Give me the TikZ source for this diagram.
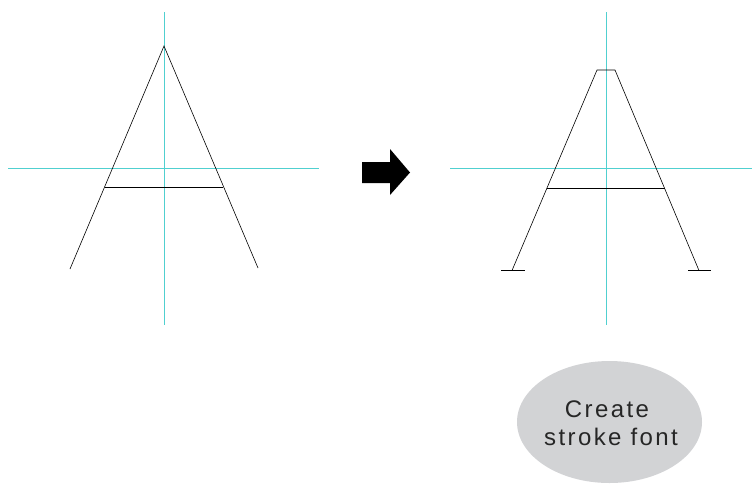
\documentclass[tikz,border=0pt]{standalone}
\usepackage{fontspec}
\usetikzlibrary{shapes.geometric}
\setmainfont{Liberation Sans}
\newfontfamily\labelfont[LetterSpace=10]{Liberation Sans}
\definecolor{guide}{RGB}{80,208,208}
\definecolor{bubble}{RGB}{210,211,213}
\tikzset{
  guideline/.style={draw=guide, line width=1pt},
  strokeline/.style={draw=black, line width=0.6pt},
  arrowshape/.style={fill=black, draw=none},
  labeltext/.style={font=\labelfont\fontsize{24}{28}\selectfont, text=black!85, inner sep=0pt, anchor=base},
}
\begin{document}
\begin{tikzpicture}[x=1pt,y=-1pt]
\useasboundingbox (0,0) rectangle (752,483);
% left figure
\coordinate (lgt) at (164.5,12); \coordinate (lgb) at (164.5,325);
\coordinate (lgl) at (8,168.5); \coordinate (lgr) at (319,168.5);
\draw[guideline] (lgt) -- (lgb);
\draw[guideline] (lgl) -- (lgr);
\coordinate (lapex) at (164,46);
\coordinate (lfl) at (70,269);
\coordinate (lfr) at (258,268);
\coordinate (lcl) at (105,187); \coordinate (lcr) at (223,187);
\draw[strokeline] (lfl) -- (lapex) -- (lfr);
\draw[strokeline] (lcl) -- (lcr);
% arrow
\fill[arrowshape] (362,162) -- (390,162) -- (390,149) -- (410,172.5) -- (390,195) -- (390,183) -- (362,183) -- cycle;
% right figure
\coordinate (rgt) at (606.5,12); \coordinate (rgb) at (606.5,325);
\coordinate (rgl) at (450,168.5); \coordinate (rgr) at (752,168.5);
\draw[guideline] (rgt) -- (rgb);
\draw[guideline] (rgl) -- (rgr);
\coordinate (rtl) at (597,70); \coordinate (rtr) at (615,70);
\coordinate (rbl) at (512,270.5); \coordinate (rbr) at (699,270.5);
\coordinate (rfl1) at (501,270.5); \coordinate (rfl2) at (525,270.5);
\coordinate (rfr1) at (688,270.5); \coordinate (rfr2) at (711,270.5);
\coordinate (rcl) at (547,188); \coordinate (rcr) at (665,188);
\draw[strokeline] (rbl) -- (rtl) -- (rtr) -- (rbr);
\draw[strokeline] (rfl1) -- (rfl2);
\draw[strokeline] (rfr1) -- (rfr2);
\draw[strokeline] (rcl) -- (rcr);
% bubble
\node[ellipse, fill=bubble, minimum width=185pt, minimum height=122pt, inner sep=0pt] (bub) at (609.5,422) {};
\node[labeltext] (lab1) at (607,417) {Create};
\node[labeltext] (lab2) at (611,445) {stroke font};
\end{tikzpicture}
\end{document}
